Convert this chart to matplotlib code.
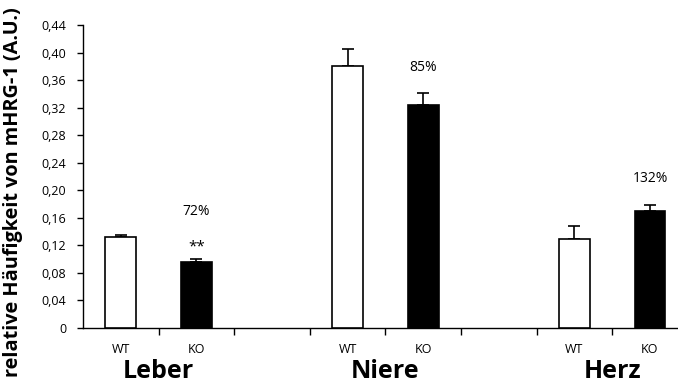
import matplotlib
matplotlib.use("Agg")
import matplotlib.pyplot as plt
from matplotlib.ticker import FuncFormatter
import matplotlib.transforms as mtransforms

plt.rcParams['font.family'] = ['Open Sans', 'DejaVu Sans']

organs = ["Leber", "Niere", "Herz"]
genotypes = ["WT", "KO"]
wt_values = [0.1326, 0.3805, 0.1288]
wt_errors = [0.003, 0.024, 0.019]
ko_values = [0.0963, 0.3234, 0.170]
ko_errors = [0.004, 0.018, 0.009]
percent_labels = ["72%", "85%", "132%"]
significance = ["**", "", ""]
y_ticks = [0, 0.04, 0.08, 0.12, 0.16, 0.20, 0.24, 0.28, 0.32, 0.36, 0.40, 0.44]

fig = plt.figure(figsize=(6.78, 3.83), dpi=100)
ax = fig.add_axes([83/678, 55/383, (678-83)/678, (328-25)/383])

bw = 0.41
for i in range(len(organs)):
    xw = 3*i
    xk = 3*i + 1
    ax.bar(xw, wt_values[i], width=bw, color="white", edgecolor="black", linewidth=1.2, zorder=3)
    ax.errorbar(xw, wt_values[i], yerr=[[0], [wt_errors[i]]], fmt="none", ecolor="black",
                elinewidth=1.2, capsize=4, capthick=1.2, zorder=2)
    ax.bar(xk, ko_values[i], width=bw, color="black", edgecolor="black", linewidth=1.2, zorder=3)
    ax.errorbar(xk, ko_values[i], yerr=[[0], [ko_errors[i]]], fmt="none", ecolor="black",
                elinewidth=1.2, capsize=4, capthick=1.2, zorder=2)

# annotations
ax.text(1, 0.169, percent_labels[0], ha="center", va="center", fontsize=10)
ax.text(1, 0.117, significance[0], ha="center", va="center", fontsize=11)
ax.text(4, 0.378, percent_labels[1], ha="center", va="center", fontsize=10)
ax.text(7, 0.217, percent_labels[2], ha="center", va="center", fontsize=10)

ax.set_xlim(-0.5, -0.5 + (678-83)/75.6)
ax.set_ylim(0, 0.44)
ax.set_yticks(y_ticks)
ax.yaxis.set_major_formatter(FuncFormatter(lambda v, p: "0" if abs(v) < 1e-9 else f"{v:.2f}".replace(".", ",")))
ax.tick_params(axis="y", direction="out", length=4, width=1, labelsize=9, pad=8)

ax.set_xticks([0.5 + k for k in range(7)])
ax.set_xticklabels([])
ax.tick_params(axis="x", which="major", direction="out", length=5, width=1)

cat_pos = []
cat_lab = []
for i in range(len(organs)):
    cat_pos += [3*i, 3*i + 1]
    cat_lab += genotypes
ax.set_xticks(cat_pos, minor=True)
ax.set_xticklabels(cat_lab, minor=True, fontsize=9)
ax.tick_params(axis="x", which="minor", length=0, pad=11)

trans = mtransforms.blended_transform_factory(ax.transData, fig.transFigure)
for i, name in enumerate(organs):
    ax.text(3*i + 0.5, 1 - 372/383, name, transform=trans, ha="center", va="center",
            fontsize=18, fontweight="bold")

fig.text(13/678, 1 - 192/383, "relative Häufigkeit von mHRG-1 (A.U.)", rotation=90,
         ha="center", va="center", fontsize=14.3, fontweight="bold")

for s in ["top", "right"]:
    ax.spines[s].set_visible(False)
ax.spines["left"].set_linewidth(1)
ax.spines["bottom"].set_linewidth(1)

fig.savefig("out.png", dpi=100)
